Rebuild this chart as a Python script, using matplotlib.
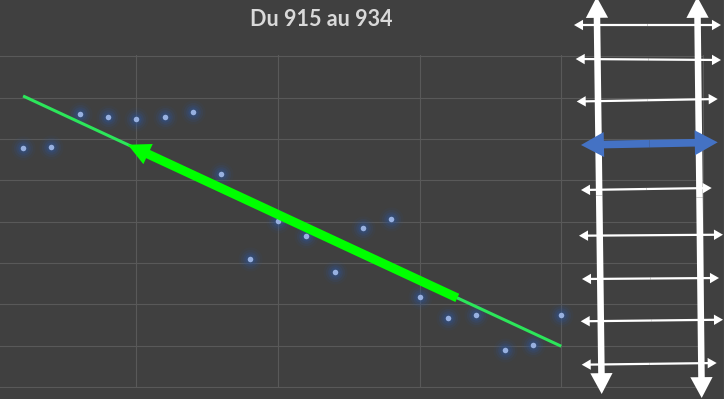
import numpy as np
import matplotlib
matplotlib.use('Agg')
import matplotlib.pyplot as plt
from matplotlib.patches import FancyArrowPatch
from matplotlib.lines import Line2D

# jours 915 .. 934 (numérotés 1..20 sur l'axe)
jours = np.arange(1, 21)
valeurs = [5.79, 5.81, 6.60, 6.53, 6.48, 6.53, 6.65, 5.14, 3.09, 4.01,
           3.65, 2.78, 3.84, 4.06, 2.18, 1.68, 1.75, 0.91, 1.03, 1.75]
titre = "Du 915 au 934"

# flèche verte posée sur la tendance (début, fin en x)
fleche_x = [16.33, 4.70]

fond = '#404040'
W, H = 724, 399

fig = plt.figure(figsize=(W / 100, H / 100), dpi=100, facecolor=fond)
ax = fig.add_axes([0, 11 / H, 704 / W, 332.7 / H])
ax.set_facecolor(fond)
ax.set_xticks(np.arange(0, 26, 5))
ax.set_yticks(np.arange(0, 9, 1))
# les limites après les ticks (set_xticks élargit la vue sinon)
ax.set_xlim(0.185, 25.04)
ax.set_ylim(-0.02, 8.02)
ax.grid(True, color='#595959', lw=0.8)
ax.tick_params(length=0, labelbottom=False, labelleft=False)
for s in ax.spines.values():
    s.set_visible(False)

# points avec halo
for taille, a in [(300, 0.08), (190, 0.13), (110, 0.2), (55, 0.3)]:
    ax.scatter(jours, valeurs, s=taille, color='#2F5597', alpha=a, lw=0, zorder=3)
ax.scatter(jours, valeurs, s=16, color='#97B0E0', lw=0, zorder=4)

# courbe de tendance linéaire
pente, origine = np.polyfit(jours, valeurs, 1)
xt = np.array([jours[0], jours[-1]])
ax.plot(xt, pente * xt + origine, color='#2CE65A', lw=2.2, zorder=5,
        solid_capstyle='butt')

fx0, fx1 = fleche_x
ax.add_patch(FancyArrowPatch((fx0, pente * fx0 + origine), (fx1, pente * fx1 + origine),
                             arrowstyle='simple,head_length=16,head_width=16,tail_width=6.5',
                             mutation_scale=1, color='#00FF00', lw=0,
                             shrinkA=0, shrinkB=0, zorder=6))

fig.text(321 / W, 1 - 20 / H, titre, ha='center', va='center', fontsize=15.5,
         fontweight='bold', color='#D9D9D9', family=['Lato', 'DejaVu Sans'])


# ---- l'échelle dessinée à droite (coordonnées en pixels) ----
def fig_xy(x, y):
    return (x / W, 1 - y / H)


def fleche(x0, y0, x1, y1, couleur, tl, tw, q, z=10):
    # double flèche = deux flèches simples depuis le milieu
    xm, ym = (x0 + x1) / 2, (y0 + y1) / 2
    for xe, ye in [(x0, y0), (x1, y1)]:
        fig.add_artist(FancyArrowPatch(fig_xy(xm, ym), fig_xy(xe, ye),
                                       transform=fig.transFigure,
                                       arrowstyle='simple,head_length=%g,head_width=%g,tail_width=%g' % (tl, tw, q),
                                       mutation_scale=1, color=couleur, lw=0,
                                       shrinkA=0, shrinkB=0, zorder=z))


barreaux = [(574, 25, 721, 25), (575.7, 59, 721, 60), (576.7, 101.5, 717.7, 99),
            (581, 190, 711.7, 188), (579, 235.7, 723, 234.7), (582, 279, 719, 278),
            (580.7, 321.3, 723, 319.7), (581.7, 364.7, 716.7, 363)]
montants = [(596.7, -3, 601.7, 394), (697.3, -3, 701.7, 398)]
barreau_bleu = (581, 145, 717.7, 142.3)

for b in barreaux:
    fleche(*b, 'white', 6.5, 7.5, 1.6, z=10)
for m in montants:
    fleche(*m, 'white', 15, 16, 4.7, z=11)
fleche(*barreau_bleu, '#4472C4', 16.5, 18, 5.5, z=12)

fig.add_artist(Line2D([723.5 / W] * 2, [0, 1], color='#5A5A5A', lw=1,
                      transform=fig.transFigure))

fig.savefig('out.png', dpi=100, facecolor=fond)
